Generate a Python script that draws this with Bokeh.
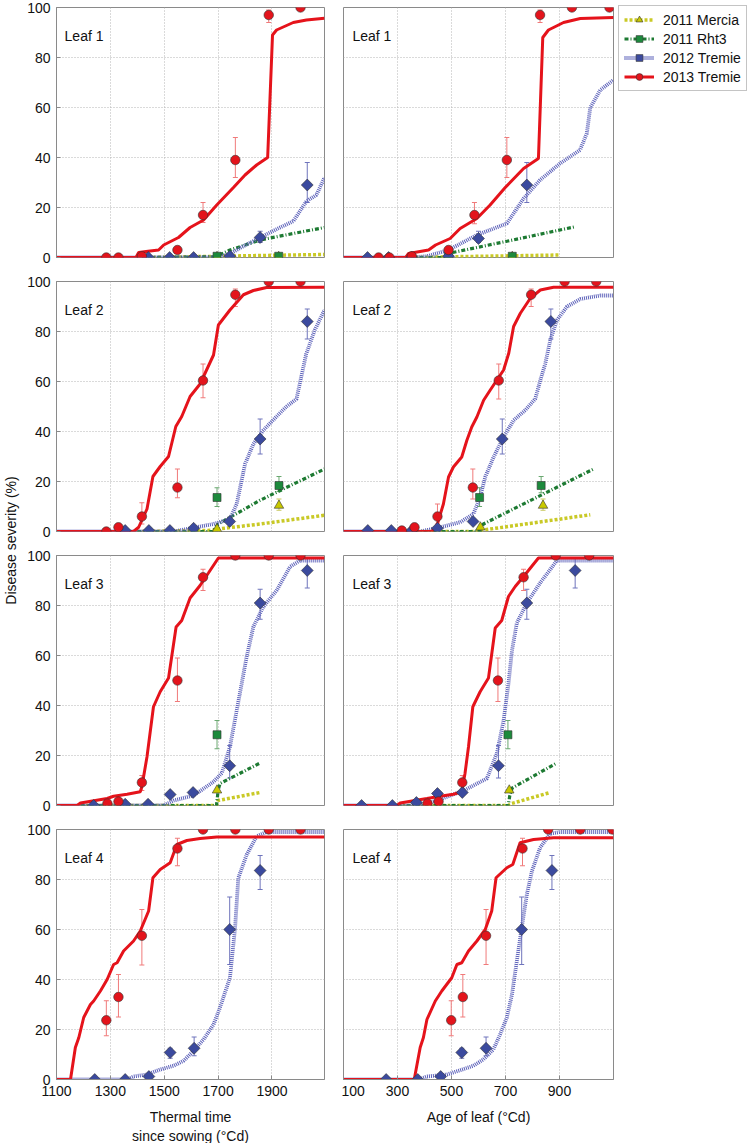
import numpy as np
from bokeh.plotting import figure
from bokeh.layouts import row, column
from bokeh.models import (Range1d, FixedTicker, Label, Legend, LegendItem,
                          Whisker, TeeHead, ColumnDataSource)
from bokeh.embed import file_html
from bokeh.resources import INLINE

FONT = "Liberation Sans"

# ---------------- data ----------------
SERIES = ["2011 Mercia", "2011 Rht3", "2012 Tremie", "2013 Tremie"]
TT_TICKS = [1100, 1300, 1500, 1700, 1900]
AGE_TICKS = [100, 300, 500, 700, 900]
Y_TICKS = [0, 20, 40, 60, 80, 100]

# ---- Leaf 1, thermal time ----
l1_tt_t13_px = [1285, 1330, 1417, 1549, 1644, 1764, 1888, 2006]
l1_tt_t13_py = [0, 0, 0.5, 3, 17, 39, 97, 100]
l1_tt_t13_elo = [None, None, None, None, 14, 32, 94, None]
l1_tt_t13_ehi = [None, None, None, None, 22, 48, 99, None]
l1_tt_t13_lx = [1100, 1395, 1405, 1440, 1479, 1498, 1553, 1596, 1646, 1695, 1757, 1800, 1843, 1884, 1902, 1917, 1979, 2028, 2095]
l1_tt_t13_ly = [0, 0, 2, 2.5, 3, 5, 8, 12, 15, 21, 28, 33, 37, 40, 89, 91, 94, 95, 95.7]
l1_tt_t12_px = [1441, 1520, 1609, 1744, 1856, 2031]
l1_tt_t12_py = [0, 0, 0, 0.5, 8, 29]
l1_tt_t12_elo = [None, None, None, None, 6, 22]
l1_tt_t12_ehi = [None, None, None, None, 10.5, 38]
l1_tt_t12_lx = [1100, 1700, 1744, 1794, 1856, 1930, 1979, 2028, 2065, 2095]
l1_tt_t12_ly = [0, 0, 1.5, 4.5, 8, 12, 14.5, 22.5, 25, 32]
l1_tt_rht_px = [1696, 1925]
l1_tt_rht_py = [0.5, 0.5]
l1_tt_rht_elo = [None, None]
l1_tt_rht_ehi = [None, None]
l1_tt_rht_lx = [1440, 1690, 1744, 1856, 1979, 2095]
l1_tt_rht_ly = [0, 0.3, 3, 7, 9.6, 12]
l1_tt_mer_px = [1696, 1925]
l1_tt_mer_py = [0.3, 0.3]
l1_tt_mer_elo = [None, None]
l1_tt_mer_ehi = [None, None]
l1_tt_mer_lx = [1440, 1700, 1856, 2095]
l1_tt_mer_ly = [0, 0.5, 0.8, 1.2]

# ---- Leaf 1, age of leaf ----
l1_age_t13_px = [230, 270, 353, 489, 585, 705, 828, 946, 1085]
l1_age_t13_py = [0, 0, 0.5, 3, 17, 39, 97, 100, 100]
l1_age_t13_elo = [None, None, None, None, 13.5, 32, 94, None, None]
l1_age_t13_ehi = [None, None, None, None, 22, 48, 99, None, None]
l1_age_t13_lx = [100, 330, 341, 415, 441, 495, 532, 594, 643, 699, 767, 822, 838, 859, 915, 977, 1100]
l1_age_t13_ly = [0, 0, 1.6, 3, 5, 7.6, 11.6, 15.6, 21, 28, 35.6, 39.6, 88, 91, 94, 95.6, 96]
l1_age_t12_px = [189, 267, 353, 489, 600, 779]
l1_age_t12_py = [0, 0, 0, 0.5, 7.6, 29]
l1_age_t12_elo = [None, None, None, None, 6, 22]
l1_age_t12_ehi = [None, None, None, None, 10.5, 38]
l1_age_t12_lx = [100, 347, 409, 489, 594, 705, 767, 828, 902, 976, 1001, 1014, 1051, 1100]
l1_age_t12_ly = [0, 0, 0.5, 3, 9, 13.6, 23.6, 31, 37.6, 43, 49.6, 60, 67, 71]
l1_age_rht_px = [489, 725]
l1_age_rht_py = [0.5, 0.5]
l1_age_rht_elo = [None, None]
l1_age_rht_ehi = [None, None]
l1_age_rht_lx = [348, 495, 505, 705, 958]
l1_age_rht_ly = [0, 0, 2, 6.5, 12.3]
l1_age_mer_px = [489, 725]
l1_age_mer_py = [0.3, 0.3]
l1_age_mer_elo = [None, None]
l1_age_mer_ehi = [None, None]
l1_age_mer_lx = [348, 500, 902]
l1_age_mer_ly = [0, 0.3, 1.0]

# ---- Leaf 2, thermal time ----
l2_tt_t13_px = [1285, 1330, 1417, 1549, 1644, 1764, 1888, 2006]
l2_tt_t13_py = [0, 1.7, 6, 17.6, 60.4, 94.7, 100, 100]
l2_tt_t13_elo = [None, None, 3, 13.5, 53.5, 90, None, None]
l2_tt_t13_ehi = [None, None, 11.5, 25, 67, 97, None, None]
l2_tt_t13_lx = [1100, 1386, 1405, 1436, 1458, 1485, 1516, 1543, 1565, 1596, 1633, 1683, 1701, 1744, 1794, 1831, 1880, 2095]
l2_tt_t13_ly = [0, 0, 1.7, 9, 22, 26, 30, 42, 46, 54, 59, 70.6, 82.6, 88.6, 94.7, 96.4, 97.6, 97.7]
l2_tt_t12_px = [1355, 1443, 1521, 1609, 1743, 1856, 2031]
l2_tt_t12_py = [0.4, 0.4, 0.4, 1.3, 4, 37, 84]
l2_tt_t12_elo = [None, None, None, None, None, 31, 77]
l2_tt_t12_ehi = [None, None, None, None, None, 45, 89]
l2_tt_t12_lx = [1100, 1535, 1584, 1683, 1744, 1769, 1800, 1831, 1868, 1917, 1954, 1991, 2009, 2027, 2059, 2095]
l2_tt_t12_ly = [0, 0, 1, 3, 5, 11, 27, 35, 40.5, 46, 50, 53, 62, 71, 80.6, 88.6]
l2_tt_rht_px = [1696, 1926]
l2_tt_rht_py = [13.6, 18.4]
l2_tt_rht_elo = [10, 16]
l2_tt_rht_ehi = [17.5, 22]
l2_tt_rht_lx = [1400, 1680, 1700, 1856, 2095]
l2_tt_rht_ly = [0, 0, 3, 12.5, 25]
l2_tt_mer_px = [1696, 1926]
l2_tt_mer_py = [1, 10.4]
l2_tt_mer_elo = [None, 8.5]
l2_tt_mer_ehi = [None, 13]
l2_tt_mer_lx = [1400, 1690, 1700, 1856, 2095]
l2_tt_mer_ly = [0, 0.5, 1, 3, 6.5]

# ---- Leaf 2, age of leaf ----
l2_age_t13_px = [316, 363, 448, 579, 675, 795, 919, 1036]
l2_age_t13_py = [0.4, 1.7, 6, 17.6, 60.4, 94.7, 100, 100]
l2_age_t13_elo = [None, None, 3, 13, 53, 90, None, None]
l2_age_t13_ehi = [None, None, 11, 25, 67, 97, None, None]
l2_age_t13_lx = [100, 427, 446, 470, 489, 507, 538, 557, 575, 594, 619, 643, 693, 712, 730, 755, 792, 829, 878, 1100]
l2_age_t13_ly = [0, 0, 2.4, 11, 21.8, 25.8, 29.8, 36.5, 41.8, 45.8, 52.5, 56.5, 64.6, 71.3, 82, 87.3, 93.3, 96.6, 97.7, 97.7]
l2_age_t12_px = [190, 277, 353, 448, 580, 688, 868]
l2_age_t12_py = [0.4, 0.4, 0.4, 1.3, 4, 37, 84]
l2_age_t12_elo = [None, None, None, None, None, 31, 77]
l2_age_t12_ehi = [None, None, None, None, None, 45, 89]
l2_age_t12_lx = [100, 384, 458, 532, 581, 606, 625, 656, 693, 730, 773, 810, 829, 847, 866, 891, 928, 977, 1051, 1100]
l2_age_t12_ly = [0, 0, 1.7, 3.7, 7, 13.8, 21.8, 29.8, 37.8, 44.5, 48.5, 53, 60.5, 67, 76.6, 84.6, 90, 93, 94.4, 94.4]
l2_age_rht_px = [604, 832]
l2_age_rht_py = [13.6, 18.4]
l2_age_rht_elo = [10, 15.5]
l2_age_rht_ehi = [17.5, 22]
l2_age_rht_lx = [330, 606, 618, 1026]
l2_age_rht_ly = [0, 0, 3, 25]
l2_age_mer_px = [607, 839]
l2_age_mer_py = [1.7, 10.4]
l2_age_mer_elo = [None, 8.5]
l2_age_mer_ehi = [None, 13]
l2_age_mer_lx = [330, 600, 606, 1014]
l2_age_mer_ly = [0, 0, 0.4, 6.7]

# ---- Leaf 3, thermal time ----
l3_tt_t13_px = [1289, 1330, 1417, 1549, 1644, 1764, 1888, 2006]
l3_tt_t13_py = [0.8, 1.6, 9.2, 50, 91.3, 100, 100, 100]
l3_tt_t13_elo = [None, None, 6, 41.6, 86, None, None, None]
l3_tt_t13_ehi = [None, None, 12, 59, 94.5, None, None, None]
l3_tt_t13_lx = [1100, 1177, 1189, 1288, 1312, 1362, 1411, 1417, 1436, 1460, 1485, 1516, 1544, 1565, 1596, 1633, 1664, 1701, 2095]
l3_tt_t13_ly = [0, 0, 1, 2.8, 3.7, 4.5, 5.5, 7.5, 19.5, 39.5, 45.5, 51, 71.4, 74, 83, 88, 93, 99, 99]
l3_tt_t12_px = [1238, 1355, 1440, 1522, 1607, 1743, 1856, 2031]
l3_tt_t12_py = [0, 0.5, 0.5, 4.4, 5.2, 15.9, 81, 94]
l3_tt_t12_elo = [None, None, None, None, None, 11, 74.5, 87]
l3_tt_t12_ehi = [None, None, None, None, None, 24, 86.5, 99]
l3_tt_t12_lx = [1100, 1497, 1535, 1609, 1683, 1714, 1744, 1769, 1806, 1831, 1868, 1917, 1967, 2004, 2095]
l3_tt_t12_ly = [0, 0, 2, 4, 9.5, 13, 23.5, 38, 59.5, 71.5, 79.5, 86, 95.5, 98, 98]
l3_tt_rht_px = [1696]
l3_tt_rht_py = [28.3]
l3_tt_rht_elo = [22.7]
l3_tt_rht_ehi = [34]
l3_tt_rht_lx = [1190, 1694, 1700, 1707, 1856]
l3_tt_rht_ly = [0, 0, 6, 8.8, 17]
l3_tt_mer_px = [1696]
l3_tt_mer_py = [6.1]
l3_tt_mer_elo = [None]
l3_tt_mer_ehi = [None]
l3_tt_mer_lx = [1190, 1694, 1700, 1856]
l3_tt_mer_ly = [0, 0, 2, 5.2]

# ---- Leaf 3, age of leaf ----
l3_age_t13_px = [411, 452, 540, 672, 767, 886, 1010]
l3_age_t13_py = [0.8, 1.6, 9.2, 50, 91.3, 100, 100]
l3_age_t13_elo = [None, None, 6, 41.6, 86, None, None]
l3_age_t13_ehi = [None, None, 12, 59, 94.5, None, None]
l3_age_t13_lx = [100, 298, 310, 409, 458, 507, 538, 550, 563, 579, 606, 637, 662, 686, 711, 736, 767, 822, 1100]
l3_age_t13_ly = [0, 0, 1, 2.8, 3.7, 4.5, 5.5, 12.8, 23.5, 39.5, 45.5, 51, 71, 74, 83.6, 87.6, 91.6, 99, 99]
l3_age_t12_px = [167, 281, 370, 448, 540, 674, 779, 958]
l3_age_t12_py = [0, 0, 1.2, 4.8, 5.2, 15.9, 81, 94]
l3_age_t12_elo = [None, None, None, None, None, 11, 74.5, 87]
l3_age_t12_ehi = [None, None, None, None, None, 24, 86.5, 99]
l3_age_t12_lx = [100, 384, 446, 544, 631, 668, 693, 711, 724, 742, 779, 828, 865, 890, 1100]
l3_age_t12_ly = [0, 0, 2, 5.9, 10.8, 20.8, 34, 48.8, 62, 73, 81, 89, 94.3, 98, 98]
l3_age_rht_px = [709]
l3_age_rht_py = [28.3]
l3_age_rht_elo = [22.7]
l3_age_rht_ehi = [34]
l3_age_rht_lx = [300, 710, 716, 725, 890]
l3_age_rht_ly = [0, 0, 4, 7, 17]
l3_age_mer_px = [714]
l3_age_mer_py = [6.1]
l3_age_mer_elo = [None]
l3_age_mer_ehi = [None]
l3_age_mer_lx = [300, 710, 723, 865]
l3_age_mer_ly = [0, 0, 0.8, 5.2]

# ---- Leaf 4, thermal time ----
l4_tt_t13_px = [1285, 1330, 1417, 1549, 1644, 1764, 1888, 2006]
l4_tt_t13_py = [23.7, 33, 57.5, 92.4, 100, 100, 100, 100]
l4_tt_t13_elo = [17.5, 25, 45.8, 85.5, None, None, None, None]
l4_tt_t13_ehi = [31.5, 42, 68, 96.5, None, None, None, None]
l4_tt_t13_lx = [1100, 1152, 1170, 1183, 1201, 1226, 1238, 1263, 1288, 1312, 1325, 1349, 1386, 1411, 1442, 1458, 1485, 1522, 1547, 1584, 1633, 1695, 2095]
l4_tt_t13_ly = [0, 0, 12.8, 16.8, 24.8, 30, 31.4, 35.4, 40, 46, 46.7, 51.4, 55.4, 59.4, 67.4, 80.7, 84, 86.7, 94, 95.6, 96.4, 97, 97]
l4_tt_t12_px = [1242, 1355, 1443, 1522, 1611, 1743, 1856]
l4_tt_t12_py = [0, 0, 1.2, 10.8, 12.5, 60, 83.6]
l4_tt_t12_elo = [None, None, None, 8.5, 9.5, 46, 76]
l4_tt_t12_ehi = [None, None, None, 12.5, 17, 73, 89.6]
l4_tt_t12_lx = [1100, 1362, 1386, 1436, 1485, 1535, 1572, 1609, 1646, 1683, 1707, 1744, 1763, 1775, 1806, 1843, 1880, 2095]
l4_tt_t12_ly = [0, 0, 1.2, 2, 4, 5.5, 7.5, 11.5, 16, 22, 28.8, 40.7, 60.7, 80.6, 89.9, 97.3, 99, 99]

# ---- Leaf 4, age of leaf ----
l4_age_t13_px = [499, 542, 628, 763, 858, 977, 1096]
l4_age_t13_py = [23.7, 33, 57.5, 92.4, 100, 100, 100]
l4_age_t13_elo = [17.5, 25, 46, 85.5, None, None, None]
l4_age_t13_ehi = [31.5, 42, 68, 96.5, None, None, None]
l4_age_t13_lx = [100, 362, 384, 396, 409, 440, 464, 501, 520, 538, 563, 594, 625, 649, 665, 705, 727, 754, 804, 878, 1100]
l4_age_t13_ly = [0, 0, 12.8, 16.8, 24, 31.4, 35.4, 40.7, 46, 46.7, 51.4, 55.4, 60, 67.4, 80.7, 84.7, 86, 94.7, 96, 96.7, 96.7]
l4_age_t12_px = [258, 375, 460, 538, 628, 760, 872]
l4_age_t12_py = [0, 0, 1.2, 10.8, 12.5, 60, 83.6]
l4_age_t12_elo = [None, None, None, 8.5, 9.5, 46, 76]
l4_age_t12_ehi = [None, None, None, 12.5, 17, 73, 89.6]
l4_age_t12_lx = [100, 378, 409, 483, 532, 581, 618, 655, 680, 705, 724, 742, 760, 779, 798, 828, 865, 902, 1100]
l4_age_t12_ly = [0, 0, 1.2, 2, 3.7, 5.5, 8, 12, 18, 24.8, 34, 47.4, 60.7, 74, 83.4, 92.7, 98.3, 99, 99]

# ---------------- styles ----------------
STYLE = {
    "mer": dict(line_color="#c9c926", line_width=3.5, line_dash="3 2",
                marker="triangle", size=9.5, fill="#c8c800", err="#c8c860", angle=0.0),
    "rht": dict(line_color="#1d7a32", line_width=3.2, line_dash="4 2 1 2",
                marker="square", size=8, fill="#1c8a3c", err="#6aa870", angle=0.0),
    "t12": dict(line_color="#5d62ba", line_width=3.8, line_dash="1 1",
                marker="square", size=8.4, fill="#3b4a9e", err="#6f74bc", angle=np.pi / 4),
    "t13": dict(line_color="#e5131b", line_width=3, line_dash="solid",
                marker="circle", size=9.5, fill="#e3141c", err="#f07a7a", angle=0.0),
}
ORDER = ["mer", "rht", "t12", "t13"]
LABELS = dict(zip(ORDER, SERIES))

G = globals()

FRAME_H = 250
TOP_PAD = 8
BOT_PAD = 16


def make_panel(leaf, mode, last, first, legend=False):
    left = mode == "tt"
    xr = Range1d(1100, 2095) if left else Range1d(100, 1100)
    p = figure(
        frame_width=268 if left else 270, frame_height=FRAME_H,
        x_range=xr, y_range=Range1d(0, 100),
        x_axis_location="below" if last else None,
        y_axis_location="left" if left else None,
        output_backend="svg", toolbar_location=None,
        min_border_left=32 if left else 2,
        min_border_right=17 if left else (136 if legend else 2),
        min_border_top=7 if first else TOP_PAD,
        min_border_bottom=0 if last else BOT_PAD,
        background_fill_color="white", border_fill_color="white",
    )
    p.outline_line_color = "#8a8a8a"
    p.outline_line_width = 1
    ticks = TT_TICKS if left else AGE_TICKS
    p.xgrid.ticker = FixedTicker(ticks=ticks)
    p.ygrid.ticker = FixedTicker(ticks=Y_TICKS)
    p.grid.grid_line_color = "#b5b5b5"
    p.grid.grid_line_dash = "1 2"
    p.grid.grid_line_width = 1
    for ax in p.axis:
        ax.major_label_text_font = FONT
        ax.major_label_text_font_size = "14px"
        ax.major_label_text_color = "#111111"
        ax.major_tick_in = 4
        ax.major_tick_out = 0
        ax.minor_tick_line_color = None
        ax.axis_line_color = "#8a8a8a"
        ax.major_tick_line_color = "#8a8a8a"
        ax.major_label_standoff = 6
    if left:
        p.yaxis.ticker = FixedTicker(ticks=Y_TICKS)
    if last:
        p.xaxis.ticker = FixedTicker(ticks=ticks)
        p.xaxis.axis_label = "Thermal time\nsince sowing (°Cd)" if left else "Age of leaf (°Cd)"
        p.xaxis.axis_label_text_font = FONT
        p.xaxis.axis_label_text_font_size = "14px"
        p.xaxis.axis_label_text_font_style = "normal"
        p.xaxis.axis_label_text_color = "#111111"
        p.xaxis.axis_label_standoff = 10

    pref = f"l{leaf}_{mode}_"
    present = [k for k in ORDER if (pref + k + "_px") in G]
    lines, marks = {}, {}
    for k in present:
        st = STYLE[k]
        lines[k] = p.line(G[pref + k + "_lx"], G[pref + k + "_ly"], line_color=st["line_color"],
                          line_width=st["line_width"], line_dash=st["line_dash"])
    for k in present:
        st = STYLE[k]
        px, lo, hi = G[pref + k + "_px"], G[pref + k + "_elo"], G[pref + k + "_ehi"]
        idx = [i for i in range(len(px)) if lo[i] is not None]
        if idx:
            src = ColumnDataSource(dict(base=[px[i] for i in idx], lower=[lo[i] for i in idx],
                                        upper=[hi[i] for i in idx]))
            w = Whisker(source=src, base="base", lower="lower", upper="upper", dimension="height",
                        line_color=st["err"], line_width=1,
                        upper_head=TeeHead(size=5, line_color=st["err"], line_width=1),
                        lower_head=TeeHead(size=5, line_color=st["err"], line_width=1))
            p.add_layout(w)
    for k in present:
        st = STYLE[k]
        marks[k] = p.scatter(G[pref + k + "_px"], G[pref + k + "_py"], marker=st["marker"],
                             size=st["size"], angle=st["angle"], fill_color=st["fill"],
                             line_color="#333333", line_width=0.6)
    x0 = 1130 if left else 133
    p.add_layout(Label(x=x0, y=88.5, text=f"Leaf {leaf}", text_font=FONT, text_font_size="14px",
                       text_color="#111111", text_baseline="middle"))
    if legend:
        items = [LegendItem(label=LABELS[k], renderers=[lines[k], marks[k]]) for k in ORDER]
        lg = Legend(items=items, location=(5, FRAME_H - 84), margin=0, padding=5, spacing=2,
                    label_text_font=FONT, label_text_font_size="14px", label_text_color="#111111",
                    glyph_width=30, glyph_height=17, label_height=17, label_standoff=9,
                    border_line_color="#8a8a8a", border_line_width=1, background_fill_alpha=1)
        p.add_layout(lg, "right")
    return p


rows = []
for leaf in range(1, 5):
    pl = make_panel(leaf, "tt", last=(leaf == 4), first=(leaf == 1))
    pr = make_panel(leaf, "age", last=(leaf == 4), first=(leaf == 1), legend=(leaf == 1))
    rows.append(row(pl, pr))
grid = column(*rows)

TOTAL_H = 1140
ylab = figure(width=24, height=TOTAL_H, x_range=Range1d(0, 24), y_range=Range1d(0, TOTAL_H),
              x_axis_location=None, y_axis_location=None, output_backend="svg",
              toolbar_location=None, min_border=0, outline_line_color=None)
ylab.grid.visible = False
ylab.add_layout(Label(x=10, y=TOTAL_H - 540, text="Disease severity (%)", angle=np.pi / 2,
                      text_align="center", text_baseline="middle", text_font=FONT,
                      text_font_size="14px", text_color="#111111"))

layout = row(ylab, grid)
open("out.html", "w").write(file_html(layout, INLINE))
